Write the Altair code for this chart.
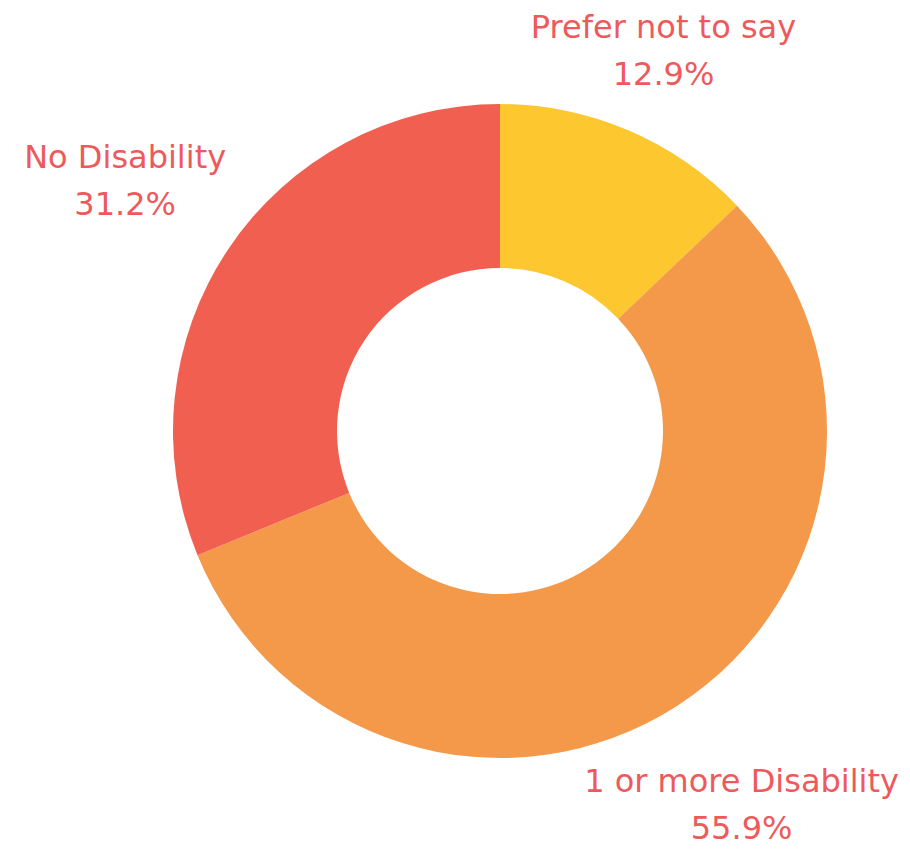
import altair as alt
import pandas as pd

categories = ["Prefer not to say", "1 or more Disability", "No Disability"]
values = [12.9, 55.9, 31.2]
colors = ["#FDC72F", "#F4994A", "#F15F51"]

df = pd.DataFrame({
    "category": categories,
    "value": values,
    "idx": list(range(len(categories))),
})
df["label"] = [f"{c}\n{v}%" for c, v in zip(categories, values)]

OUTER = 327
INNER = 163
GAP = 342          # distance from centre to the nearest corner of a label box
CHAR_W = 16.3      # approximate glyph width at the label font size
HALF_H = 40        # half height of a two-line label box

arcs = alt.Chart(df).mark_arc(outerRadius=OUTER, innerRadius=INNER).encode(
    theta=alt.Theta("value:Q", stack=True),
    order=alt.Order("idx:O"),
    x=alt.value(492),
    y=alt.value(423),
    color=alt.Color("category:N",
                    scale=alt.Scale(domain=categories, range=colors),
                    legend=None),
)

labels = alt.Chart(df).transform_joinaggregate(
    total="sum(value)"
).transform_window(
    cum="sum(value)", sort=[alt.SortField("idx")], frame=[None, 0]
).transform_calculate(
    mid="(datum.cum - datum.value / 2) / datum.total * 2 * PI",
    w=f"length(datum.category) * {CHAR_W}",
).transform_calculate(
    b=f"abs(sin(datum.mid)) * datum.w / 2 + abs(cos(datum.mid)) * {HALF_H}",
).transform_calculate(
    r=f"datum.b + sqrt(datum.b * datum.b - (datum.w * datum.w / 4 + {HALF_H * HALF_H}) + {GAP * GAP})",
).mark_text(
    font="DejaVu Sans",
    fontSize=32,
    lineBreak="\n",
    lineHeight=47,
    color="#EE5A5C",
    align="center",
    baseline="middle",
    dy=-22,
).encode(
    theta=alt.Theta("mid:Q", scale=None, stack=None),
    radius=alt.Radius("r:Q", scale=None),
    x=alt.value(492),
    y=alt.value(423),
    text="label:N",
)

chart = alt.layer(arcs, labels).resolve_scale(theta="independent").properties(
    width=894, height=838, autosize="none", padding=0, background="#FFFFFF"
).configure_view(stroke=None)

chart.save("out.html", embed_options={"renderer": "svg", "actions": False})
